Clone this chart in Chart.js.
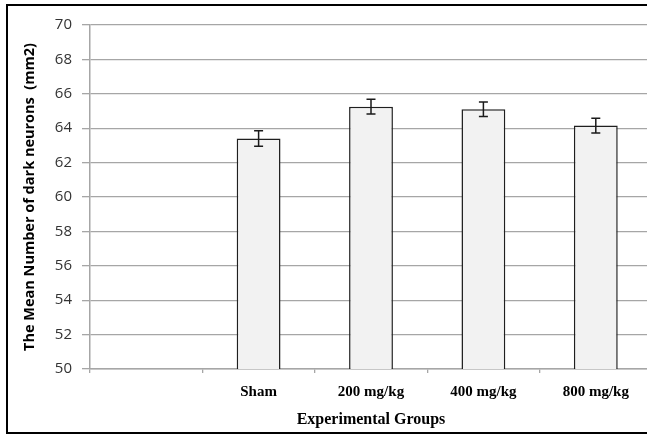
<!DOCTYPE html>
<html>
<head>
<meta charset="utf-8">
<script src="https://cdn.jsdelivr.net/npm/chart.js@4.4.1/dist/chart.umd.min.js"></script>
<style>
  html, body { margin: 0; padding: 0; background: #fff; overflow: hidden; width: 647px; height: 435px; }
  #frame { position: absolute; left: 6px; top: 4px; width: 700px; height: 430px; border: 2px solid #000; box-sizing: border-box; background: #fff; }
  #wrap { position: absolute; left: 0; top: 0; width: 696px; height: 426px; }
</style>
</head>
<body>
<div id="frame"><div id="wrap"><canvas id="c"></canvas></div></div>
<script>
const categories = ["", "Sham", "200 mg/kg", "400 mg/kg", "800 mg/kg"];
const meanValues = [null, 63.4, 65.25, 65.1, 64.15];
const errorValues = [null, 0.45, 0.43, 0.42, 0.43];
const yTicks = [50, 52, 54, 56, 58, 60, 62, 64, 66, 68, 70];
const yTitle = "The Mean Number of dark neurons  (mm2)";
const xTitle = "Experimental Groups";

const gridGray = "#a6a6a6";

const errorBarPlugin = {
  id: "errorBars",
  afterDatasetsDraw(chart) {
    const ctx = chart.ctx;
    const meta = chart.getDatasetMeta(0);
    const yScale = chart.scales.y;
    ctx.save();
    ctx.strokeStyle = "#1a1a1a";
    ctx.lineWidth = 1.5;
    meta.data.forEach((bar, i) => {
      const v = meanValues[i], e = errorValues[i];
      if (v == null || e == null) return;
      const x = bar.x;
      const yTop = yScale.getPixelForValue(v + e);
      const yBot = yScale.getPixelForValue(v - e);
      const cap = 4.5;
      ctx.beginPath();
      ctx.moveTo(x, yTop); ctx.lineTo(x, yBot);
      ctx.moveTo(x - cap, yTop); ctx.lineTo(x + cap, yTop);
      ctx.moveTo(x - cap, yBot); ctx.lineTo(x + cap, yBot);
      ctx.stroke();
    });
    ctx.restore();
  }
};

new Chart(document.getElementById("c"), {
  type: "bar",
  data: {
    labels: categories,
    datasets: [{
      data: meanValues,
      backgroundColor: "#f2f2f2",
      borderColor: "#1f1f1f",
      borderWidth: 1.5,
      categoryPercentage: 1.0,
      barPercentage: 0.39
    }]
  },
  options: {
    responsive: true,
    maintainAspectRatio: false,
    animation: false,
    layout: { padding: { left: 0, right: 52, top: 13, bottom: 0 } },
    plugins: { legend: { display: false }, tooltip: { enabled: false } },
    scales: {
      x: {
        offset: true,
        afterFit(scale) { scale.height = 63; },
        grid: { drawOnChartArea: false, offset: true, tickLength: 4, color: gridGray, lineWidth: 1.3 },
        border: { color: gridGray, width: 1.5 },
        ticks: {
          padding: 10,
          color: "#000",
          font: { family: "'Liberation Serif', serif", weight: "bold", size: 15 }
        },
        title: {
          display: true,
          text: xTitle,
          color: "#000",
          padding: { top: 0, bottom: 3 },
          font: { family: "'Liberation Serif', serif", weight: "bold", size: 16 }
        }
      },
      y: {
        min: 50,
        max: 70,
        afterFit(scale) { scale.width = 82; },
        afterBuildTicks(scale) { scale.ticks = yTicks.map(v => ({ value: v })); },
        grid: { color: gridGray, lineWidth: 1.3, tickLength: 8, drawTicks: true },
        border: { color: gridGray, width: 1.5 },
        ticks: {
          padding: 10,
          color: "#333",
          font: { family: "'Open Sans', sans-serif", size: 15 }
        },
        title: {
          display: true,
          text: yTitle,
          color: "#000",
          padding: { top: 13, bottom: 0 },
          font: { family: "'Open Sans', sans-serif", weight: "bold", size: 14.5 }
        }
      }
    }
  },
  plugins: [errorBarPlugin]
});
</script>
</body>
</html>
